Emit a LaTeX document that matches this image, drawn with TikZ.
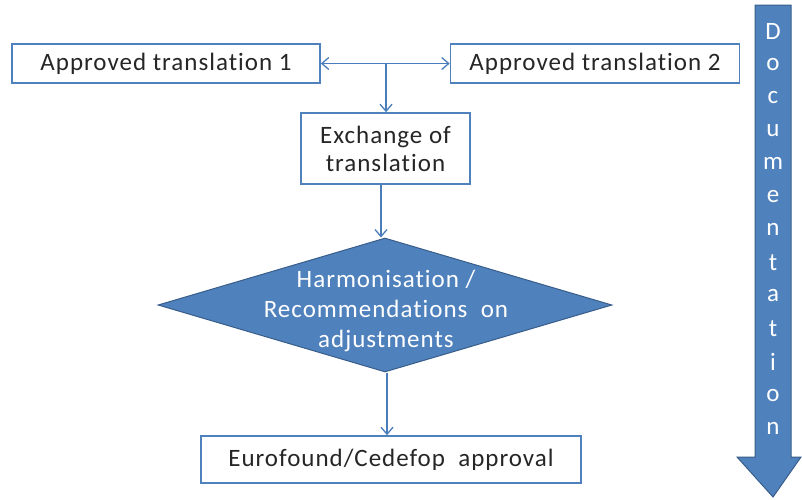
\documentclass[tikz,border=0pt]{standalone}
\usepackage{fontspec}
\setmainfont{Carlito}[Ligatures={NoCommon},LetterSpace=4]
\usetikzlibrary{shapes.geometric,arrows.meta}
\definecolor{boxline}{RGB}{79,129,189}
\definecolor{flowfill}{RGB}{79,129,189}
\definecolor{flowedge}{RGB}{56,93,138}
\definecolor{conn}{RGB}{74,126,187}
\begin{document}
\begin{tikzpicture}[x=1pt,y=-1pt,
  every node/.style={font=\fontsize{25}{28}\selectfont},
  stepbox/.style={draw=boxline,line width=1.6pt,fill=white,inner sep=0pt,text=black!85},
  link/.style={draw=conn,line width=1.3pt,-{Straight Barb[length=7pt,width=12pt,line width=1.3pt]}},
  twoway/.style={draw=conn,line width=1.3pt,{Straight Barb[length=7pt,width=12pt,line width=1.3pt]}-{Straight Barb[length=7pt,width=12pt,line width=1.3pt]}}]
\useasboundingbox (0,0) rectangle (802,499);

% top row
\node[stepbox,minimum width=308pt,minimum height=39pt] (t1) at (166,63.5) {Approved translation 1};
\node[stepbox,minimum width=289pt,minimum height=39pt] (t2) at (595,63.5) {Approved translation 2};
\node[stepbox,minimum width=169pt,minimum height=71pt,align=center] (ex) at (385.5,148.5) {Exchange of\\translation};
\coordinate (j) at (386,63.5);
\draw[twoway] (t1.east) -- (t2.west);
\draw[link] (j) -- (ex.north -| j);

% decision
\node[diamond,draw=flowedge,fill=flowfill,line width=1pt,minimum width=454pt,minimum height=134pt,inner sep=0pt,aspect=3.4] (hr) at (385,305) {};
\node[text=white,align=center,font=\fontsize{25}{30}\selectfont] (hrt) at (386,311) {Harmonisation /\\Recommendations\ \ on\\adjustments};
\draw[link] (ex.south -| 381,0) -- (hr.north -| 381,0);

% approval
\node[stepbox,minimum width=380pt,minimum height=47pt] (ap) at (391,459.5) {Eurofound/Cedefop\ \ approval};
\draw[link] (hr.south -| 387,0) -- (ap.north -| 387,0);

% documentation arrow
\draw[fill=flowfill,draw=flowedge,line width=1pt]
  (755,5) -- (791,5) -- (791,457) -- (801,457) -- (773,497) -- (737,457) -- (755,457) -- cycle;
\foreach \ch [count=\i from 0] in {D,o,c,u,m,e,n,t,a,t,i,o,n}
  \node[text=white,inner sep=0pt] (d\i) at (773,31+33.1*\i) {\ch};
\end{tikzpicture}
\end{document}
